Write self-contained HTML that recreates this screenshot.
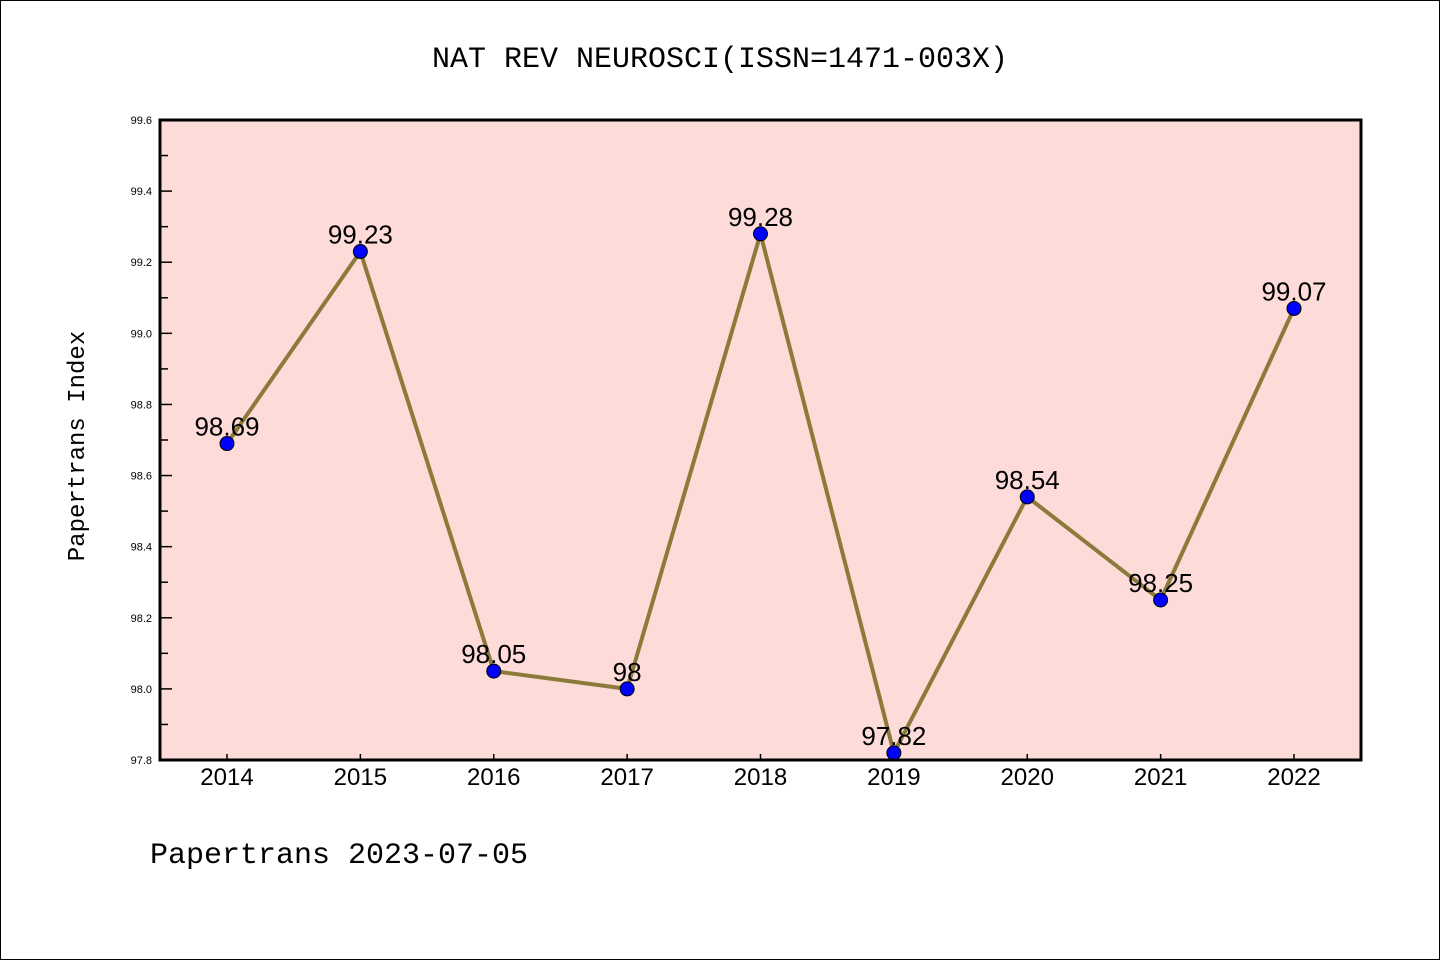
<!DOCTYPE html>
<html><head><meta charset="utf-8"><style>
body{margin:0;background:#fff;}
svg{display:block;font-family:"Liberation Sans","WenQuanYi Zen Hei",sans-serif;}
</style></head><body>
<svg id="chart" width="1440" height="960" xmlns="http://www.w3.org/2000/svg">
<rect x="0.5" y="0.5" width="1439" height="959" fill="#fff" stroke="#000" stroke-width="1"/>
<text x="720" y="67" text-anchor="middle" font-size="30" font-family="'Liberation Mono',monospace">NAT REV NEUROSCI(ISSN=1471-003X)</text>
<rect x="160" y="120" width="1201" height="640" fill="#fddbd8"/>
<g id="yaxis"></g>
<g id="xaxis"></g>
<g id="series"></g>
<rect x="160" y="120" width="1201" height="640" fill="none" stroke="#000" stroke-width="3"/>
<text transform="translate(84,446) rotate(-90)" text-anchor="middle" font-size="24" font-family="'Liberation Mono',monospace">Papertrans Index</text>
<text x="150" y="863" font-size="30" font-family="'Liberation Mono',monospace">Papertrans 2023-07-05</text>
</svg>
<script>
const years=["2014","2015","2016","2017","2018","2019","2020","2021","2022"];
const values=[98.69,99.23,98.05,98.0,99.28,97.82,98.54,98.25,99.07];
const labels=["98.69","99.23","98.05","98","99.28","97.82","98.54","98.25","99.07"];
const yTicks=["97.8","98.0","98.2","98.4","98.6","98.8","99.0","99.2","99.4","99.6"];
const NS="http://www.w3.org/2000/svg";
const yMin=97.8,yMax=99.6,plotTop=120,plotBot=760,plotLeft=160;
function yScale(v){return plotBot-(v-yMin)/(yMax-yMin)*(plotBot-plotTop);}
function xScale(i){return 227+i*(1294-227)/(years.length-1);}
function mk(t,a,p){const e=document.createElementNS(NS,t);for(const k in a)e.setAttribute(k,a[k]);p.appendChild(e);return e;}
const ya=document.getElementById('yaxis');
yTicks.forEach(t=>{const v=parseFloat(t);const yy=yScale(v);
 const l=mk('line',{x1:plotLeft,x2:plotLeft+12,y1:yy,y2:yy,stroke:'#000','stroke-width':1.5},ya);
 
 
 const tx=mk('text',{x:152,y:yy+4,'text-anchor':'end','font-size':11},ya);tx.textContent=t;
 
 
 if(v<yMax-0.01){const m=yScale(v+0.1);const ml=mk('line',{x1:plotLeft,x2:plotLeft+8,y1:m,y2:m,stroke:'#000','stroke-width':1.5},ya);
 
 }
});
const xa=document.getElementById('xaxis');
years.forEach((t,i)=>{const xx=xScale(i);
 const l=mk('line',{x1:xx,x2:xx,y1:plotBot,y2:plotBot-6,stroke:'#000','stroke-width':1.5},xa);
 
 
 const tx=mk('text',{x:xx,y:785,'text-anchor':'middle','font-size':24},xa);tx.textContent=t;
 
 
});
const s=document.getElementById('series');
const pl=mk('polyline',{points:values.map((v,i)=>xScale(i)+','+yScale(v)).join(' '),fill:'none',stroke:'#8b7a3a','stroke-width':4,'stroke-linejoin':'round'},s);


values.forEach((v,i)=>{
 const c=mk('circle',{cx:xScale(i),cy:yScale(v),r:7,fill:'#0000ff',stroke:'#000','stroke-width':1},s);
 
 
 const tx=mk('text',{x:xScale(i),y:yScale(v)-8,'text-anchor':'middle','font-size':26},s);tx.textContent=labels[i];
 
 
});
</script>
</body></html>
